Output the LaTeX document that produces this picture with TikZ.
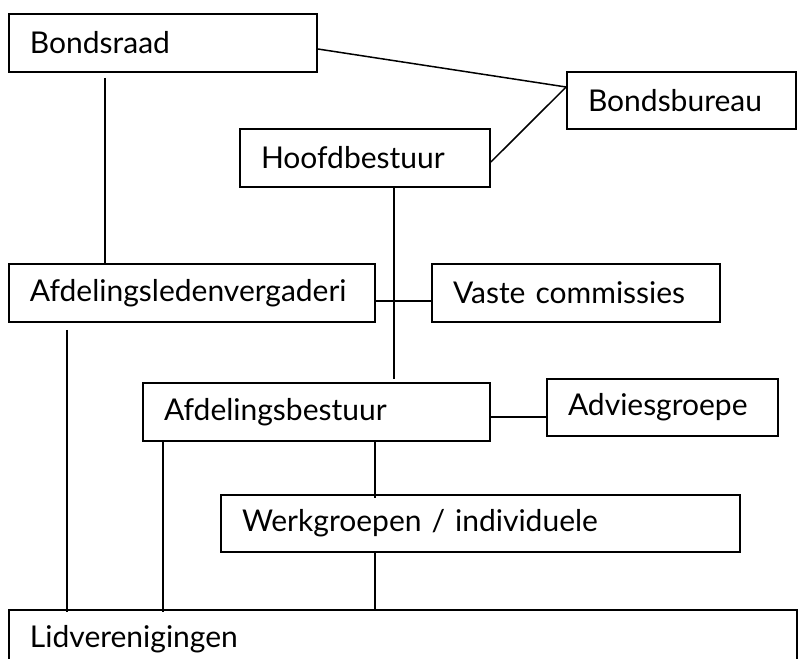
\documentclass[tikz,border=0pt]{standalone}
\usepackage{fontspec}
\setmainfont{Lato}
\usetikzlibrary{calc}
\tikzset{
  box/.style={draw=black, line width=1.8pt, rectangle, minimum height=58pt,
    inner xsep=21pt, inner ysep=0pt, align=left, font=\fontsize{30}{32}\selectfont},
  link/.style={draw=black, line width=1.5pt}
}
\begin{document}
\begin{tikzpicture}[x=1pt,y=-1pt]
\clip (0,0) rectangle (801,659);
\fill[white] (0,0) rectangle (801,659);
\node[box, text width=266pt] (bondsraad) at (163,43) {Bondsraad};
\node[box, text width=187pt, minimum height=57pt] (bondsbureau) at (681.5,100.5) {Bondsbureau};
\node[box, text width=208pt] (hoofd) at (365,158) {Hoofdbestuur};
\node[box, text width=324pt] (afdled) at (192,293) {Afdelingsledenvergaderi};
\node[box, text width=246pt] (vaste) at (576,293) {Vaste commissies};
\node[box, text width=305pt] (afdbest) at (316.5,412) {Afdelingsbestuur};
\node[box, text width=189pt, minimum height=57pt] (advies) at (662.5,407.5) {Adviesgroepe};
\node[box, text width=477pt, minimum height=57pt] (werk) at (480.5,523.5) {Werkgroepen / individuele};
\node[box, text width=746pt] (lid) at (403,639) {Lidverenigingen};
% connectors
\draw[link] ([yshift=-6pt]bondsraad.east) -- ([yshift=13.5pt]bondsbureau.west);
\draw[link] ([yshift=-4pt]hoofd.east) -- ([yshift=13.5pt]bondsbureau.west);
\draw[link] ([xshift=97pt,yshift=-5pt]bondsraad.south west) -- ([xshift=97pt]afdled.north west);
\draw[link] ([xshift=29pt]hoofd.south) -- ([xshift=77.5pt,yshift=3pt]afdbest.north);
\draw[link] ([yshift=-8pt]afdled.east) -- ([yshift=-8pt]vaste.west);
\draw[link] ([yshift=-5pt]afdbest.east) -- ([yshift=-9.5pt]advies.west);
\draw[link] ([xshift=59pt,yshift=-7pt]afdled.south west) -- ([xshift=59pt,yshift=-3pt]lid.north west);
\draw[link] ([xshift=21pt]afdbest.south west) -- ([xshift=155pt,yshift=-3pt]lid.north west);
\draw[link] ([xshift=58.5pt]afdbest.south) -- ([xshift=-105.5pt,yshift=-4pt]werk.north);
\draw[link] ([xshift=-105.5pt]werk.south) -- ([xshift=-28pt]lid.north);
\end{tikzpicture}
\end{document}
